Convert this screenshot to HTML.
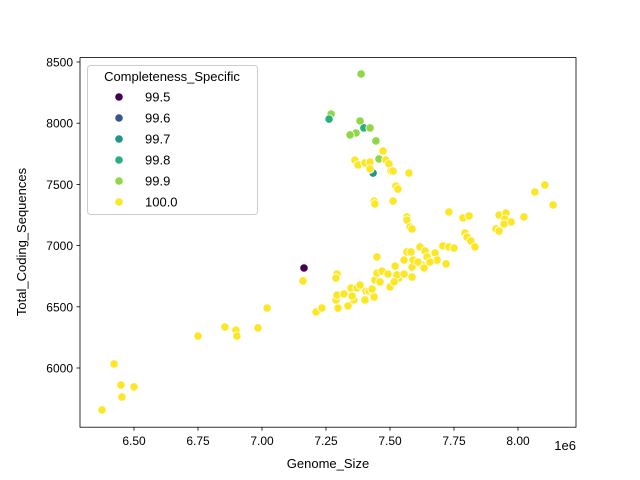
<!DOCTYPE html>
<html><head><meta charset="utf-8"><style>
body{margin:0;background:#fff;}
svg{display:block;font-family:"Liberation Sans","DejaVu Sans",sans-serif;}
</style></head><body>
<svg id="chart" width="640" height="480" xmlns="http://www.w3.org/2000/svg">
<rect x="0" y="0" width="640" height="480" fill="#fff"/>
<g id="marks"></g>
<rect x="80" y="57.6" width="496" height="369.6" fill="none" stroke="#000" stroke-width="0.8"/>
<g id="axes"></g>
<text x="328" y="468" text-anchor="middle" font-size="13">Genome_Size</text>
<text x="576" y="450" text-anchor="end" font-size="13">1e6</text>
<text transform="translate(26,242) rotate(-90)" text-anchor="middle" font-size="13">Total_Coding_Sequences</text>
<g id="legend"></g>
</svg>
<script>
const xTicks=[6.5,6.75,7.0,7.25,7.5,7.75,8.0];
const xTickLabels=["6.50","6.75","7.00","7.25","7.50","7.75","8.00"];
const yTicks=[6000,6500,7000,7500,8000,8500];
const levels=[99.5,99.6,99.7,99.8,99.9,100.0];
const levelLabels=["99.5","99.6","99.7","99.8","99.9","100.0"];
const levelColors=["#440154","#39568c","#1f968b","#29af7f","#8fd744","#fde725"];
const genomeSize=[7.387,7.270,7.262,7.383,7.398,7.422,7.367,7.344,7.445,7.457,7.434,
7.473,7.363,7.375,7.402,7.422,7.422,7.484,7.496,7.504,7.512,7.574,7.523,7.531,7.438,7.441,7.512,7.566,7.566,7.578,7.586,
7.164,7.160,7.293,7.289,7.211,7.234,7.297,7.289,7.293,7.320,7.336,7.359,7.348,7.371,7.406,7.418,7.434,7.438,7.430,7.441,7.449,7.449,7.469,7.492,7.500,7.520,7.535,7.527,7.555,7.566,7.582,7.586,7.586,7.555,7.590,7.617,7.637,7.645,7.625,7.633,7.676,7.684,7.703,7.723,7.719,
8.105,8.066,8.137,7.730,7.785,7.809,7.926,7.953,7.949,7.973,7.945,7.914,7.926,8.023,7.793,7.801,7.816,7.832,7.707,7.730,7.750,
6.375,6.422,6.449,6.453,6.500,6.750,6.855,6.898,6.902,6.984,7.020,
7.383,7.461,7.516,7.609,7.656,7.352,7.402];
const codingSeqs=[8402,8075,8034,8018,7961,7961,7920,7904,7855,7708,7593,
7773,7699,7659,7675,7683,7626,7699,7667,7609,7609,7593,7487,7462,7364,7340,7364,7234,7209,7152,7136,
6817,6711,6768,6735,6458,6490,6490,6556,6596,6605,6507,6556,6654,6654,6629,6629,6596,6580,6645,6719,6776,6907,6792,6768,6662,6833,6735,6760,6882,6948,6948,6825,6743,6768,6882,6989,6956,6907,6842,6817,6940,6882,6997,6989,6850,
7495,7438,7332,7275,7226,7242,7250,7266,7217,7193,7176,7136,7119,7234,7103,7070,7038,6989,6997,6989,6980,
5657,6033,5861,5763,5845,6261,6335,6310,6261,6327,6490,
6678,6703,6703,6866,6866,6588,6556];
const completeness=[99.9,99.9,99.8,99.9,99.8,99.9,99.9,99.9,99.9,99.9,99.7,
100,100,100,100,100,100,100,100,100,100,100,100,100,100,100,100,100,100,100,100,
99.5,100,100,100,100,100,100,100,100,100,100,100,100,100,100,100,100,100,100,100,100,100,100,100,100,100,100,100,100,100,100,100,100,100,100,100,100,100,100,100,100,100,100,100,100,
100,100,100,100,100,100,100,100,100,100,100,100,100,100,100,100,100,100,100,100,100,
100,100,100,100,100,100,100,100,100,100,100,
100,100,100,100,100,100,100];
const NS="http://www.w3.org/2000/svg";
function xs(v){return 134+(v-6.5)*256;}
function ys(v){return 368-(v-6000)*0.1224;}
function colorFor(c){let b=0,d=1e9;levels.forEach((l,i)=>{const e=Math.abs(l-c);if(e<d){d=e;b=i;}});return levelColors[b];}
function mk(tag,attrs,parent){const e=document.createElementNS(NS,tag);for(const k in attrs)e.setAttribute(k,attrs[k]);parent.appendChild(e);return e;}
const marks=document.getElementById('marks');
genomeSize.forEach((g,i)=>{
  const c=mk('circle',{cx:xs(g),cy:ys(codingSeqs[i]),r:4.2,fill:colorFor(completeness[i]),stroke:'#fff','stroke-width':0.8},marks);
  
  
});
const axes=document.getElementById('axes');
xTicks.forEach((t,i)=>{
  const x=xs(t);
  const l=mk('line',{x1:x,x2:x,y1:427.2,y2:430.7,stroke:'#000','stroke-width':0.8},axes);
  
  
  const tx=mk('text',{x:x,y:445,'text-anchor':'middle','font-size':12},axes);
  tx.textContent=xTickLabels[i];
  
  
});
yTicks.forEach(t=>{
  const y=ys(t);
  const l=mk('line',{x1:76.5,x2:80,y1:y,y2:y,stroke:'#000','stroke-width':0.8},axes);
  
  
  const tx=mk('text',{x:73,y:y+4.5,'text-anchor':'end','font-size':12},axes);
  tx.textContent=String(t);
  
  
});
const lg=document.getElementById('legend');
const box=mk('rect',{x:87.5,y:65.5,width:170,height:149,rx:3,fill:'#fff','fill-opacity':0.8,stroke:'#ccc','stroke-width':1},lg);


const ttl=mk('text',{x:172,y:81,'text-anchor':'middle','font-size':13},lg);
ttl.textContent='Completeness_Specific';


levels.forEach((l,i)=>{
  const y=97+i*21;
  const c=mk('circle',{cx:119,cy:y,r:4.2,fill:levelColors[i],stroke:'#fff','stroke-width':0.8},lg);
  
  
  const t=mk('text',{x:145,y:y+4.5,'font-size':13},lg);
  t.textContent=levelLabels[i];
  
  
});
</script>
</body></html>
